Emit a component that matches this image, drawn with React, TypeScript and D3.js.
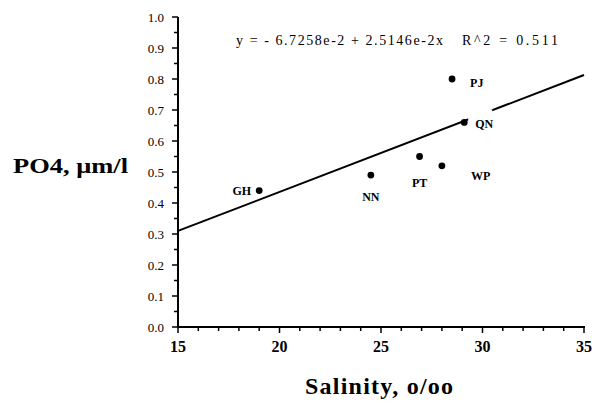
import React from "react";
import * as d3 from "d3";

const stations = ["GH", "NN", "PT", "WP", "QN", "PJ"];
const salinity = [19.0, 24.5, 26.9, 28.0, 29.1, 28.5];
const po4 = [0.44, 0.49, 0.55, 0.52, 0.66, 0.8];
const xTicks = [15, 20, 25, 30, 35];
const yTicks = [0, 0.1, 0.2, 0.3, 0.4, 0.5, 0.6, 0.7, 0.8, 0.9, 1.0];
const fitCoef = [-0.067258, 0.025146];
const equationText = "y =  - 6.7258e-2 + 2.5146e-2x";
const r2Text = "R^2 = 0.511";

// label offsets per station: [dx, dy, anchor]
const labelOffsets: [number, number, string][] = [
  [-8, 4.5, "end"],
  [0, 26, "middle"],
  [0, 30, "middle"],
  [29, 14.5, "start"],
  [11, 6, "start"],
  [18, 7.5, "start"],
];

const FONT = "'Liberation Serif', 'Times New Roman', serif";

export default function App() {
  const x = d3.scaleLinear().domain([15, 35]).range([178, 584]);
  const y = d3.scaleLinear().domain([0, 1]).range([327, 17]);

  const xMinor = d3.range(15, 35.001, 1);
  const yMinor = d3.range(0.05, 1, 0.1);

  const line = d3
    .line<number>()
    .x((v) => x(v))
    .y((v) => y(fitCoef[0] + fitCoef[1] * v));
  const fitPath = line([15, 35]) || "";

  const qnIdx = stations.indexOf("QN");

  return (
    <svg
      width={600}
      height={410}
      style={{ position: "absolute", left: 0, top: 0, background: "#fff" }}
      fontFamily={FONT}
    >
      <rect x={0} y={0} width={600} height={410} fill="#fff" />
      {/* regression line */}
      <path d={fitPath} stroke="#000" strokeWidth={2} fill="none" />
      {/* gap behind QN label */}
      <rect
        x={x(salinity[qnIdx]) + 4}
        y={y(po4[qnIdx]) - 13}
        width={24}
        height={20}
        fill="#fff"
      />
      {/* axes */}
      <line x1={x(15)} x2={x(15)} y1={y(0) + 1} y2={y(1)} stroke="#000" strokeWidth={2} />
      <line x1={x(15) - 1} x2={x(35) + 1} y1={y(0)} y2={y(0)} stroke="#000" strokeWidth={2} />
      {yTicks.map((t) => (
        <g key={"yt" + t}>
          <line x1={x(15) - 6} x2={x(15)} y1={y(t)} y2={y(t)} stroke="#000" strokeWidth={1.5} />
          <text
            x={x(15) - 14}
            y={y(t) + 4.5}
            textAnchor="end"
            fontSize={13}
            fill="#000"
          >
            {t.toFixed(1)}
          </text>
        </g>
      ))}
      {yMinor.map((t) => (
        <line key={"ym" + t} x1={x(15) - 4} x2={x(15)} y1={y(t)} y2={y(t)} stroke="#000" strokeWidth={1.5} />
      ))}
      {xMinor.map((t) => (
        <line
          key={"xm" + t}
          x1={x(t)}
          x2={x(t)}
          y1={y(0)}
          y2={y(0) + (t % 5 === 0 ? 6 : 4)}
          stroke="#000"
          strokeWidth={1.5}
        />
      ))}
      {xTicks.map((t) => (
        <text
          key={"xt" + t}
          x={x(t)}
          y={352}
          textAnchor="middle"
          fontSize={16}
          fontWeight="bold"
          fill="#000"
        >
          {t}
        </text>
      ))}
      {/* points */}
      {stations.map((s, i) => (
        <circle key={"p" + s} cx={x(salinity[i])} cy={y(po4[i])} r={3.4} fill="#000" />
      ))}
      {stations.map((s, i) => (
        <text
          key={"l" + s}
          x={x(salinity[i]) + labelOffsets[i][0]}
          y={y(po4[i]) + labelOffsets[i][1]}
          textAnchor={labelOffsets[i][2] as any}
          fontSize={12}
          fontWeight="bold"
          fill="#000"
        >
          {s}
        </text>
      ))}
      {/* equation */}
      <text x={236} y={45} fontSize={14} fill="#000" textLength={207} lengthAdjust="spacing">
        {equationText}
      </text>
      <text x={462} y={45} fontSize={14} fill="#000" textLength={96} lengthAdjust="spacing">
        {r2Text}
      </text>
      {/* axis titles */}
      <text x={13} y={173} fontSize={22} fontWeight="bold" fill="#000" textLength={115} lengthAdjust="spacingAndGlyphs">
        PO4, μm/l
      </text>
      <text x={305} y={394} fontSize={24} fontWeight="bold" fill="#000" textLength={148} lengthAdjust="spacing">
        Salinity, o/oo
      </text>
    </svg>
  );
}
